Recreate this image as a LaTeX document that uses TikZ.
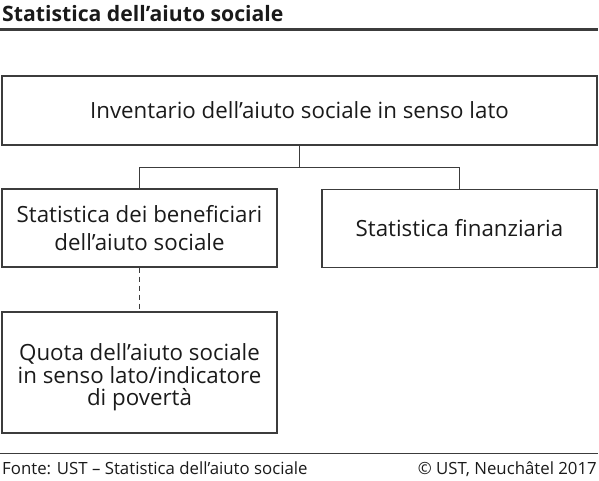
\documentclass[tikz,border=0pt]{standalone}
\usepackage{fontspec}
\setmainfont{Open Sans}
\usetikzlibrary{calc}
\definecolor{linegray}{HTML}{3C3C3C}
\definecolor{txt}{HTML}{1A1A1A}
\begin{document}
\begin{tikzpicture}[x=1pt,y=1pt,
  box/.style={draw=linegray, line width=1.3pt, inner sep=0pt, text=txt, align=center,
    font=\fontsize{22.3}{24}\selectfont},
  boxtext/.style={inner sep=0pt, text=txt, align=center, font=\fontsize{22.3}{22.5}\selectfont},
  conn/.style={draw=linegray, line width=1.3pt},
  dashconn/.style={conn, dash pattern=on 5pt off 4pt}]
\useasboundingbox (0,0) rectangle (599,-480);
% title
\node[anchor=base west, inner sep=0pt, text=txt, font=\fontsize{21.2}{23}\selectfont\bfseries] (title) at (2,-21) {Statistica dell’aiuto sociale};
\coordinate (r1a) at (0,-29.5);
\coordinate (r1b) at (597.5,-29.5);
\draw[linegray, line width=2.6pt] (r1a) -- (r1b);
% boxes
\node[box, minimum width=595pt, minimum height=69pt] (top) at (299.5,-110.5) {Inventario dell’aiuto sociale in senso lato};
\node[box, minimum width=275pt, minimum height=78pt, font=\fontsize{22.3}{28}\selectfont] (left) at (139.5,-228) {Statistica dei beneficiari\\dell’aiuto sociale};
\node[box, minimum width=275pt, minimum height=78pt] (right) at (459.5,-228.5) {Statistica finanziaria};
\node[box, minimum width=275pt, minimum height=121pt] (bottom) at (139.5,-372.5) {};
\node[boxtext] (bottomtext) at ([yshift=-5pt]bottom.center) {Quota dell’aiuto sociale\\in senso lato/indicatore\\di povertà};
% connectors
\draw[conn] (top.south) -- ++(0,-22) -| (left.north);
\draw[conn] (top.south) -- ++(0,-22) -| (right.north);
\draw[dashconn] (left.south) -- (bottom.north);
% footer
\coordinate (r2a) at (0,-453.5);
\coordinate (r2b) at (597.5,-453.5);
\draw[linegray, line width=1.6pt] (r2a) -- (r2b);
\node[anchor=base west, inner sep=0pt, text=txt, font=\fontsize{16.8}{18}\selectfont] (src) at (2,-474) {Fonte: UST – Statistica dell’aiuto sociale};
\node[anchor=base east, inner sep=0pt, text=txt, font=\fontsize{16.8}{18}\selectfont] (copy) at (597,-474) {© UST, Neuchâtel 2017};
\end{tikzpicture}
\end{document}
